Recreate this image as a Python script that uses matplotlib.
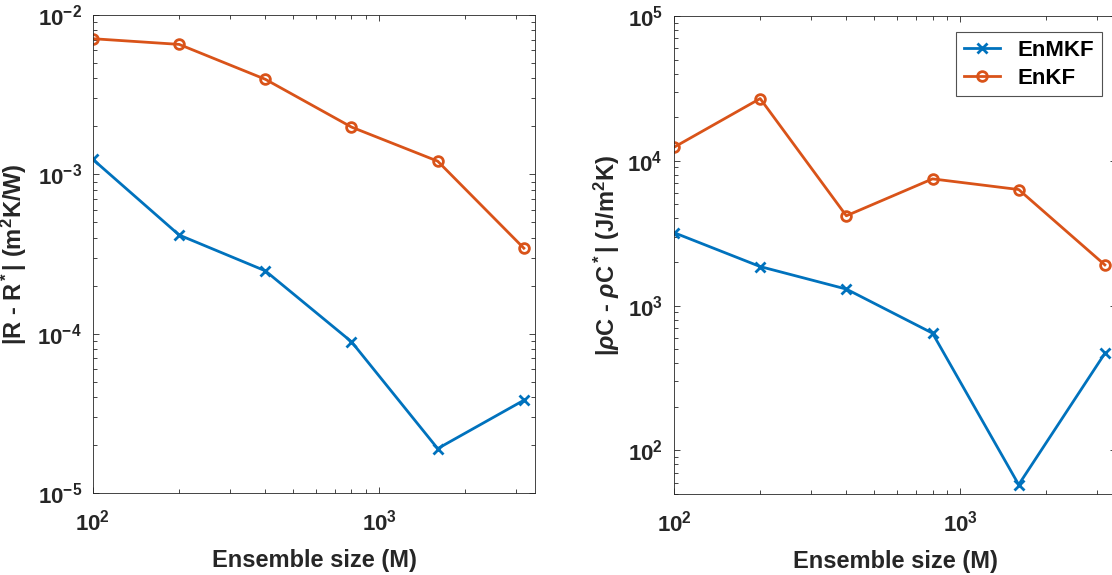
import numpy as np
import matplotlib
matplotlib.use("Agg")
import matplotlib.pyplot as plt
from matplotlib.ticker import LogLocator, NullFormatter

### DATA ###

# ensemble sizes
ens_size = [100, 200, 400, 800, 1600, 3200]

# thermal resistance error |R - R*|
R_enmkf = [1.24e-3, 4.16e-4, 2.48e-4, 8.9e-5, 1.9e-5, 3.82e-5]
R_enkf = [7.1e-3, 6.54e-3, 3.95e-3, 1.98e-3, 1.21e-3, 3.44e-4]

# heat capacity error |rhoC - rhoC*|
C_enmkf = [3.19e3, 1.86e3, 1.30e3, 645, 58, 468]
C_enkf = [1.24e4, 2.69e4, 4.17e3, 7.5e3, 6.33e3, 1.91e3]

### STYLE ###

plt.rcParams['font.family'] = 'Liberation Sans'
plt.rcParams['font.weight'] = 'bold'
plt.rcParams['axes.labelweight'] = 'bold'
plt.rcParams['mathtext.fontset'] = 'custom'
plt.rcParams['mathtext.rm'] = 'Liberation Sans:bold'
plt.rcParams['mathtext.bf'] = 'Liberation Sans:bold'
plt.rcParams['mathtext.it'] = 'Liberation Sans:italic'
plt.rcParams['mathtext.default'] = 'rm'

blue = '#0072BD'
orange = '#D95319'
axcol = '#262626'

fig = plt.figure(figsize=(11.12, 5.75), dpi=100)
ax1 = fig.add_axes([0.0836, 0.1426, 0.3975, 0.8313])
ax2 = fig.add_axes([0.6061, 0.1409, 0.3975, 0.8313])


def style_axis(ax):
    ax.set_xscale('log')
    ax.set_yscale('log')
    ax.set_xlim(100, 3500)
    ax.xaxis.set_major_locator(LogLocator(base=10))
    ax.yaxis.set_major_locator(LogLocator(base=10))
    ax.xaxis.set_minor_locator(LogLocator(base=10, subs=np.arange(2, 10)))
    ax.yaxis.set_minor_locator(LogLocator(base=10, subs=np.arange(2, 10)))
    ax.xaxis.set_minor_formatter(NullFormatter())
    ax.yaxis.set_minor_formatter(NullFormatter())
    ax.tick_params(which='both', direction='in', top=True, right=True,
                   colors=axcol, labelsize=16, width=0.6)
    ax.tick_params(which='major', length=4.5, pad=8)
    ax.tick_params(axis='x', which='major', pad=12)
    ax.tick_params(which='minor', length=3)
    for s in ax.spines.values():
        s.set_color(axcol)
        s.set_linewidth(0.6)
    ax.set_xlabel('Ensemble size (M)', fontsize=17, fontweight='bold',
                  color=axcol, labelpad=10)


# left panel: R error
ax1.plot(ens_size, R_enmkf, '-x', color=blue, lw=2, ms=7, mew=2)
ax1.plot(ens_size, R_enkf, '-o', color=orange, lw=2, ms=7, mew=2, mfc='none')
style_axis(ax1)
ax1.set_ylim(1e-5, 1e-2)
ax1.set_ylabel('|R - R$^*$| (m$^2$K/W)', fontsize=17, fontweight='bold',
               color=axcol, labelpad=6)

# right panel: rhoC error
ax2.plot(ens_size, C_enmkf, '-x', color=blue, lw=2, ms=7, mew=2, label='EnMKF')
ax2.plot(ens_size, C_enkf, '-o', color=orange, lw=2, ms=7, mew=2, mfc='none', label='EnKF')
style_axis(ax2)
ax2.set_ylim(50, 1e5)
ax2.set_ylabel(r'|$\mathit{\rho}$C - $\mathit{\rho}$C$^*$| (J/m$^2$K)', fontsize=17,
               fontweight='bold', color=axcol, labelpad=4)

leg = ax2.legend(loc='upper right', bbox_to_anchor=(0.991, 0.944),
                 bbox_transform=fig.transFigure, borderaxespad=0,
                 prop={'size': 16, 'weight': 'bold'}, fancybox=False,
                 handlelength=1.6, handletextpad=0.8, borderpad=0.35,
                 labelspacing=0.3)
leg.get_frame().set_edgecolor(axcol)
leg.get_frame().set_linewidth(0.8)

plt.savefig('out.png', dpi=100)
